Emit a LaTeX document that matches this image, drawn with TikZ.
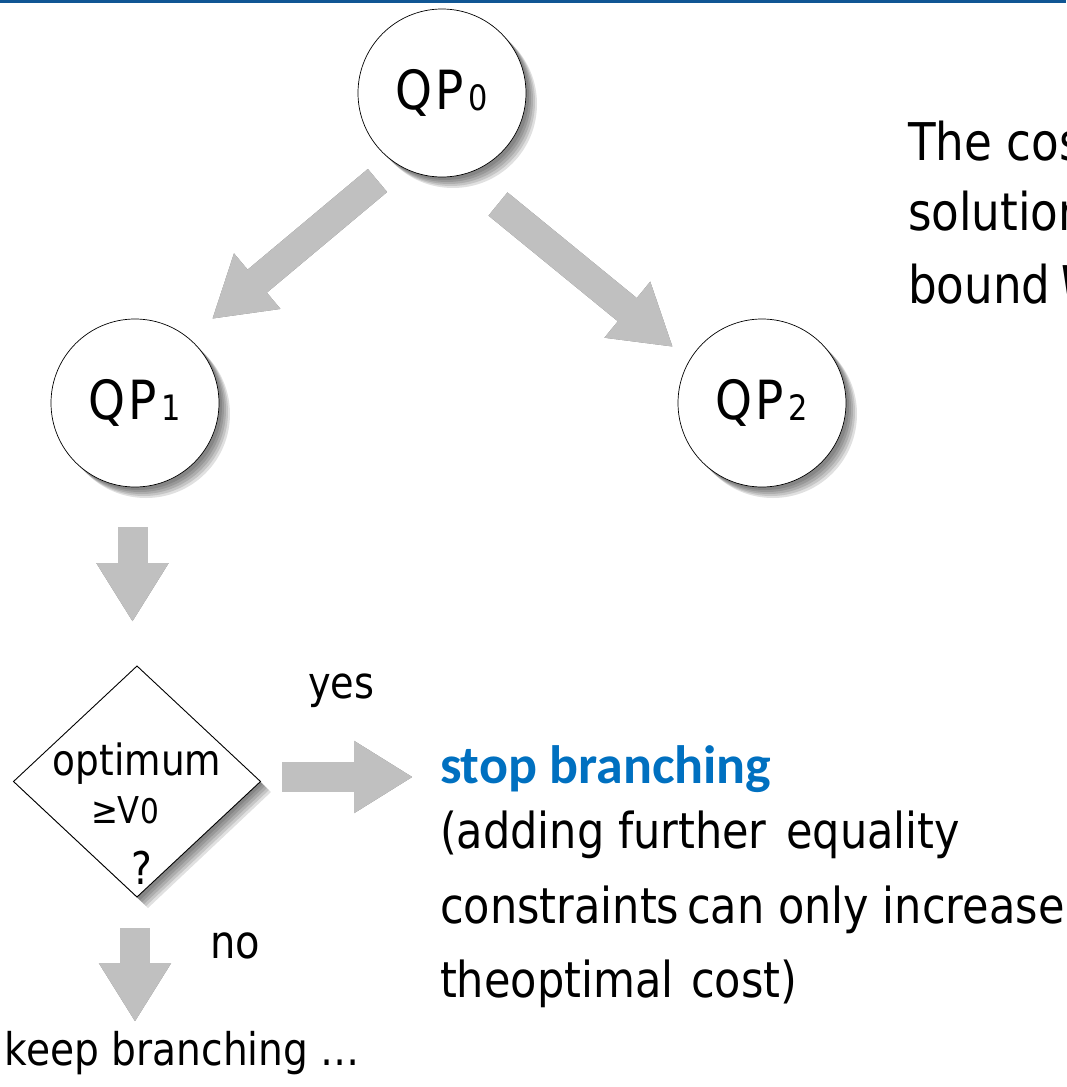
\documentclass[tikz,border=0pt]{standalone}
\usepackage{fontspec}
\setmainfont{DejaVu Sans}[FakeStretch=0.87]
\newfontfamily\headfont{Carlito}
\usetikzlibrary{arrows.meta,shapes.geometric}

\definecolor{barblue}{RGB}{16,86,148}
\definecolor{arrowgray}{RGB}{192,192,192}
\definecolor{headblue}{RGB}{0,112,192}

% font sizes (1pt = 1 output pixel)
\newcommand\fsz[1]{\fontsize{#1}{#1}\selectfont}

% circle label "QP" with a small index
\newcommand\qplabel[1]{\fsz{54}Q\kern3pt P\kern5pt\raisebox{-1pt}{\fsz{35}#1}}

% grey block arrow with a soft drop shadow
\newcommand\blockarrow[2]{%
  \foreach \s in {3,5,7,9,11}{
    \draw[arrowshade, shift={(\s,\s)}] (#1) -- (#2);
  }
  \draw[blockarrow] (#1) -- (#2);
}

\begin{document}
\begin{tikzpicture}[x=1pt,y=-1pt,
  every node/.style={inner sep=0pt, outer sep=0pt},
  qpnode/.style={circle, draw=black, line width=0.7pt, fill=white, minimum size=168pt},
  decnode/.style={diamond, draw=black, line width=0.9pt, fill=white,
                  minimum width=247pt, minimum height=231pt},
  shadowfill/.style={fill=black, opacity=0.12},
  blockarrow/.style={draw=arrowgray, line width=30pt,
                     -{Triangle[width=68pt,length=59pt]}},
  arrowshade/.style={draw=black, draw opacity=0.12, line width=30pt,
                     -{Triangle[width=68pt,length=59pt]}},
  txt/.style={anchor=base west, align=left},
  ctxt/.style={anchor=base},
]
\useasboundingbox (0,0) rectangle (1066,1087);
\clip (0,0) rectangle (1066,1087);

% top rule
\fill[barblue] (0,0) rectangle (1066,3);

% soft shadows under the circles and the decision diamond
\foreach \s in {3,5,7,9,11}{
  \fill[shadowfill] (442+\s,93+\s) circle (84);
  \fill[shadowfill] (135+\s,403+\s) circle (84);
  \fill[shadowfill] (762+\s,403+\s) circle (84);
  \fill[shadowfill] (13+\s,781+\s) -- (137+\s,666+\s) -- (260+\s,781+\s)
                    -- (137+\s,897+\s) -- cycle;
}

% subproblem nodes
\node[qpnode] (qp0) at (442,93)  {\qplabel{0}};
\node[qpnode] (qp1) at (135,403) {\qplabel{1}};
\node[qpnode] (qp2) at (762,403) {\qplabel{2}};

% decision diamond
\node[decnode] (dec) at (137,781.5) {};
\node[ctxt] (decA) at (137,775) {\fsz{43}optimum};
\node[txt]  (decB) at (91,823)  {\fsz{37}≥V\kern1pt\raisebox{0pt}{\fsz{34}0}};
\node[ctxt] (decC) at (142,884) {\fsz{45}?};

% arrow end points
\coordinate (b1s) at (377.5,180.5);
\coordinate (b1e) at (212,319);
\coordinate (b2s) at (498,204);
\coordinate (b2e) at (673,347);
\coordinate (d1s) at (132.5,527);
\coordinate (d1e) at (132.5,622);
\coordinate (ys)  at (282,777);
\coordinate (ye)  at (413,777);
\coordinate (ns)  at (135,928);
\coordinate (ne)  at (135,1022);

\blockarrow{b1s}{b1e}
\blockarrow{b2s}{b2e}
\blockarrow{d1s}{d1e}
\blockarrow{ys}{ye}
\blockarrow{ns}{ne}

% branch labels
\node[txt] (yes) at (308,698) {\fsz{44}yes};
\node[txt] (no)  at (210,958) {\fsz{46}no};
\node[txt] (keep) at (5,1065) {\fsz{45}keep branching …};

% outcome of the test
\node[txt] (stop) at (440,783) {\headfont\bfseries\fsz{54}\color{headblue}stop branching};
\node[txt] (why1) at (440,848) {\fsz{49.5}(adding further\hspace{6pt} equality};
\node[txt] (why2) at (440,923) {\fsz{49.5}constraints\hspace{-6pt} can only increase};
\node[txt] (why3) at (440,997) {\fsz{49.5}theoptimal\hspace{4pt} cost)};

% side remark
\node[txt] (rem1) at (908,160) {\fsz{52}The cost};
\node[txt] (rem2) at (908,230) {\fsz{52}solution};
\node[txt] (rem3) at (908,303) {\fsz{52}bound\hspace{9pt}\textit{V}};
\end{tikzpicture}
\end{document}
